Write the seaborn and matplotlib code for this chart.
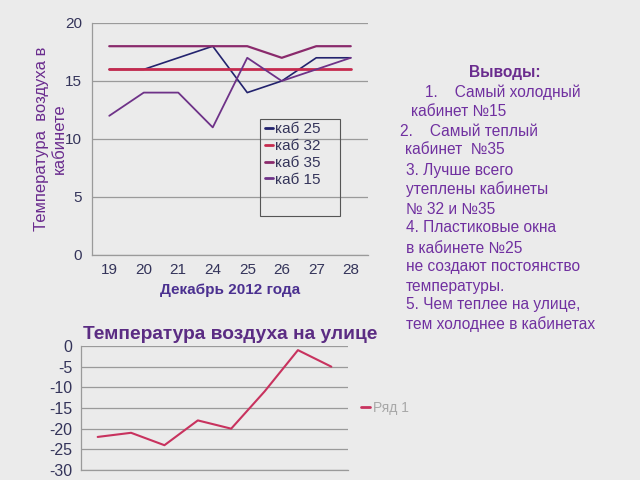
import matplotlib
matplotlib.use("Agg")
import matplotlib.pyplot as plt
import seaborn as sns
import pandas as pd
from matplotlib.patches import Rectangle

sns.set_style("white")
plt.rcParams['font.family'] = ['Liberation Sans', 'DejaVu Sans']
plt.rcParams['axes.unicode_minus'] = False

# ---------------- data ----------------
days = ["19", "20", "21", "24", "25", "26", "27", "28"]
kab25 = [16, 16, 17, 18, 14, 15, 17, 17]
kab32 = [16, 16, 16, 16, 16, 16, 16, 16]
kab35 = [18, 18, 18, 18, 18, 17, 18, 18]
kab15 = [12, 14, 14, 11, 17, 15, 16, 17]
series_names = ["каб 25", "каб 32", "каб 35", "каб 15"]
outside = [-22, -21, -24, -18, -20, -11, -1, -5]
outside_name = "Ряд 1"

y_ticks_top = [0, 5, 10, 15, 20]
y_ticks_bottom = [0, -5, -10, -15, -20, -25, -30]

title_bottom = "Температура воздуха на улице"
ylabel_top = "Температура  воздуха в\nкабинете"
xlabel_top = "Декабрь 2012 года"
notes = [
    ("Выводы:", 505, 73, "center", "bold"),
    ("1.    Самый холодный", 425, 92, "left", "normal"),
    ("кабинет №15", 411, 112, "left", "normal"),
    ("2.    Самый теплый", 400, 131, "left", "normal"),
    ("кабинет  №35", 405, 150, "left", "normal"),
    ("3. Лучше всего", 406, 170, "left", "normal"),
    ("утеплены кабинеты", 406, 189, "left", "normal"),
    ("№ 32 и №35", 406, 209, "left", "normal"),
    ("4. Пластиковые окна", 406, 228, "left", "normal"),
    ("в кабинете №25", 406, 248, "left", "normal"),
    ("не создают постоянство", 406, 267, "left", "normal"),
    ("температуры.", 406, 286, "left", "normal"),
    ("5. Чем теплее на улице,", 406, 305, "left", "normal"),
    ("тем холоднее в кабинетах", 406, 324, "left", "normal"),
]

# ---------------- styling ----------------
bg = "#EBEBEB"
grid_c = "#9A9A9A"
tick_c = "#34345A"
purple = "#6A2C8E"
colors = {"каб 25": "#23236E", "каб 32": "#C52A4E", "каб 35": "#8A2A6C", "каб 15": "#6E3288"}
widths = {"каб 25": 1.2, "каб 32": 2.0, "каб 35": 1.6, "каб 15": 1.3}

W, H = 640, 480
fig = plt.figure(figsize=(6.4, 4.8), dpi=100, facecolor=bg)

def px_axes(l, t, r, b):
    return fig.add_axes([l / W, 1 - b / H, (r - l) / W, (b - t) / H])

# ---------------- top chart ----------------
ax1 = px_axes(92, 23, 368, 255)
ax1.set_facecolor("none")
df = pd.DataFrame({
    "day": days * 4,
    "temp": kab25 + kab32 + kab35 + kab15,
    "kab": sum([[n] * len(days) for n in series_names], []),
})
for name in series_names:
    sub = df[df["kab"] == name]
    sns.lineplot(data=sub, x="day", y="temp", ax=ax1, color=colors[name],
                 lw=widths[name], sort=False, label=name, legend=False)

ax1.set_xlim(-0.5, len(days) - 0.5)
ax1.set_ylim(0, 20)
ax1.set_yticks(y_ticks_top)
ax1.set_xticks(range(len(days)))
ax1.set_xticklabels(days)
ax1.set_xticks([i - 0.5 for i in range(len(days) + 1)], minor=True)
ax1.tick_params(axis="x", which="major", length=0, labelsize=11, labelcolor=tick_c, pad=6)
ax1.tick_params(axis="x", which="minor", length=4, color=grid_c, direction="out")
ax1.tick_params(axis="y", length=4, color=grid_c, labelsize=11, labelcolor=tick_c, pad=3)
ax1.yaxis.grid(True, color=grid_c, lw=0.9)
for s in ["top", "right"]:
    ax1.spines[s].set_visible(False)
for s in ["left", "bottom"]:
    ax1.spines[s].set_color(grid_c)
    ax1.spines[s].set_linewidth(0.9)
ax1.set_xlabel(xlabel_top, fontsize=11, fontweight="bold", color="#4B3090", labelpad=4)
ax1.set_ylabel(ylabel_top, fontsize=12, color=purple, labelpad=-1, linespacing=1.25)

# legend box
x0 = (260 - 92) / 276
x1 = (340 - 92) / 276
y0 = 1 - (216 - 23) / 232
y1 = 1 - (119 - 23) / 232
ax1.add_patch(Rectangle((x0, y0), x1 - x0, y1 - y0, transform=ax1.transAxes,
                        fill=False, edgecolor="#555555", lw=0.8, zorder=5))
leg = ax1.legend(loc="upper left", bbox_to_anchor=(x0, y1 + 0.005), frameon=False,
                 fontsize=11, handlelength=0.55, handletextpad=0.15, labelspacing=0.18,
                 borderpad=0.3, borderaxespad=0)
for t in leg.get_texts():
    t.set_color(tick_c)
for h in leg.get_lines():
    h.set_linewidth(2.0)

# ---------------- bottom chart ----------------
ax2 = px_axes(81, 346, 348, 470)
ax2.set_facecolor("none")
df2 = pd.DataFrame({"day": days, "temp": outside, "s": [outside_name] * len(days)})
sns.lineplot(data=df2, x="day", y="temp", ax=ax2, color="#C8325E", lw=1.5,
             sort=False, label=outside_name, legend=False)
ax2.set_xlim(-0.5, len(days) - 0.5)
ax2.set_ylim(-30, 0)
ax2.set_yticks(y_ticks_bottom)
ax2.set_xticks([])
ax2.tick_params(axis="y", length=4, color=grid_c, labelsize=11.5, labelcolor=tick_c, pad=2)
ax2.yaxis.grid(True, color=grid_c, lw=0.9)
for s in ["top", "right"]:
    ax2.spines[s].set_visible(False)
for s in ["left", "bottom"]:
    ax2.spines[s].set_color(grid_c)
    ax2.spines[s].set_linewidth(0.9)
ax2.set_xlabel("")
ax2.set_ylabel("")
ax2.set_title(title_bottom, fontsize=13.8, fontweight="bold", color="#5B2C83", pad=5,
              x=(230 - 81) / 267)
leg2 = ax2.legend(loc="center left", bbox_to_anchor=(1.0, 0.5), frameon=False,
                  fontsize=10, handlelength=0.7, handletextpad=0.2)
for t in leg2.get_texts():
    t.set_color("#A8A8A8")
for h in leg2.get_lines():
    h.set_linewidth(2.0)

# ---------------- notes ----------------
for text, x, y, ha, fw in notes:
    fig.text(x / W, 1 - y / H, text, ha=ha, va="center", fontsize=11.2,
             fontweight=fw, color="#7030A0" if fw == "normal" else "#6A2C8E")

fig.savefig("out.png", dpi=100, facecolor=bg)
